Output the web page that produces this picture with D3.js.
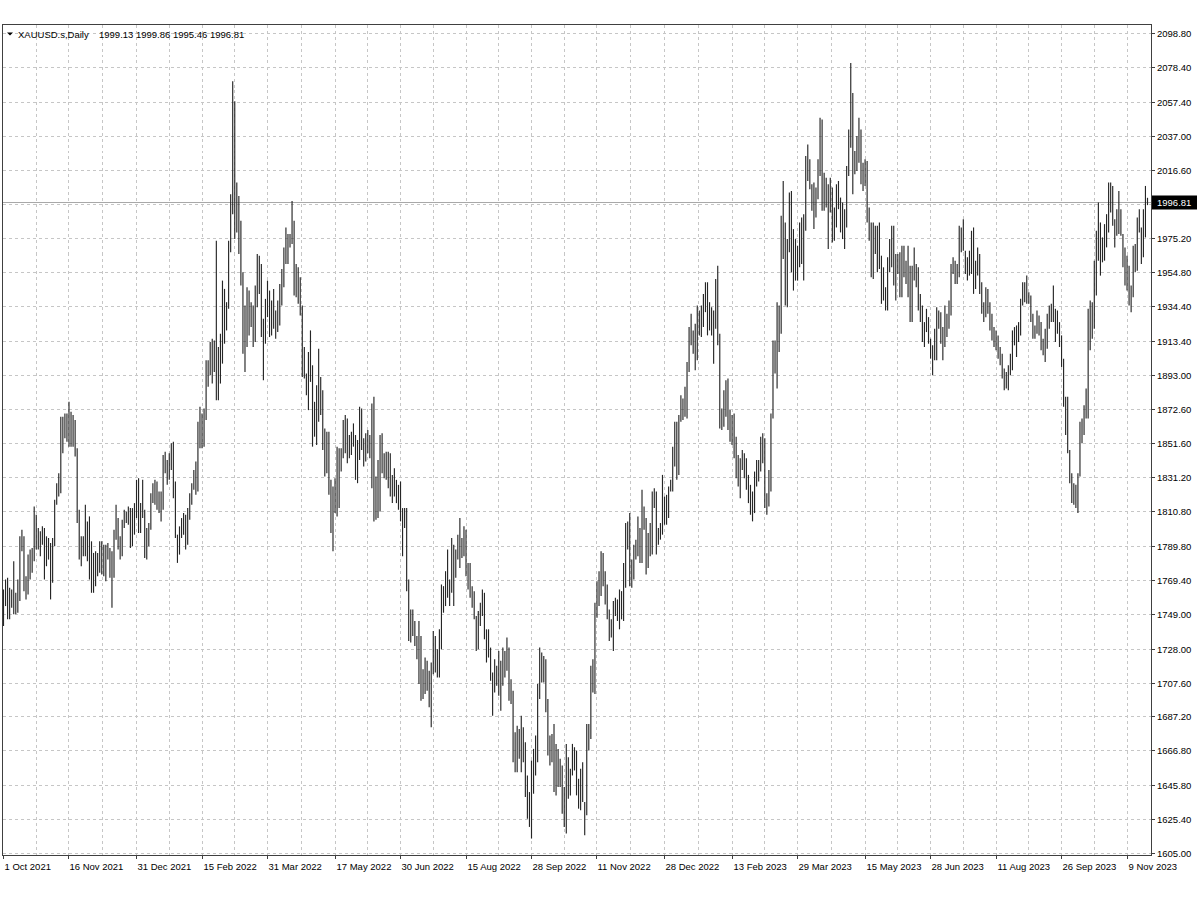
<!DOCTYPE html>
<html>
<head>
<meta charset="utf-8">
<script src="https://cdn.jsdelivr.net/npm/d3@7"></script>
<style>
  html, body { margin: 0; padding: 0; background: #ffffff; }
  svg { display: block; }
  text { font-family: "Liberation Sans", Arial, sans-serif; font-size: 9.5px; fill: #000; }
</style>
</head>
<body>
<svg id="chart" width="1200" height="900"></svg>
<script>
// ---------------- DATA ----------------
const symbolTitle = "XAUUSD.s,Daily";
const lastOHLC = [1999.13, 1999.86, 1995.46, 1996.81];

// Daily highs, 1 Oct 2021 .. 23 Nov 2023 (one row per week)
const highs = [
  1764,
  1770,1771,1765,1764,1781,
  1762,1770,1796,1800,1796,
  1772,1785,1788,1789,1814,
  1809,1801,1799,1802,1801,
  1796,1795,1792,1795,1818,
  1828,1834,1868,1868,1870,
  1870,1877,1871,1869,1866,
  1849,1812,1796,1796,1815,
  1805,1808,1793,1786,1787,
  1786,1793,1793,1791,1791,
  1792,1789,1787,1800,1815,
  1807,1796,1806,1812,1811,
  1814,1813,1813,1816,1830,
  1831,1816,1830,1812,1801,
  1804,1822,1828,1830,1829,
  1823,1823,1845,1847,1842,
  1846,1852,1853,1829,1797,
  1802,1807,1810,1809,1813,
  1822,1828,1836,1841,1865,
  1874,1870,1873,1902,1902,
  1913,1915,1914,1974,1910,
  1918,1950,1945,1937,1974,
  2002,2070,2058,2009,2001,
  1986,1955,1935,1946,1944,
  1937,1935,1947,1966,1965,
  1960,1927,1939,1950,1944,
  1938,1945,1932,1938,1948,
  1957,1970,1982,1978,1978,
  1998,1986,1960,1958,1952,
  1935,1910,1894,1907,1920,
  1899,1877,1887,1909,1892,
  1884,1861,1859,1859,1830,
  1826,1831,1850,1849,1849,
  1866,1869,1867,1857,1859,
  1864,1857,1854,1874,1873,
  1855,1858,1860,1857,1876,
  1880,1832,1842,1857,1858,
  1846,1847,1847,1846,1833,
  1837,1830,1827,1829,1813,
  1813,1813,1770,1752,1752,
  1745,1736,1745,1736,1716,
  1723,1721,1715,1720,1739,
  1736,1728,1740,1767,1766,
  1775,1788,1770,1795,1791,
  1788,1797,1807,1795,1802,
  1800,1780,1780,1766,1763,
  1748,1751,1756,1764,1762,
  1740,1740,1729,1714,1722,
  1718,1727,1721,1729,1727,
  1735,1729,1710,1703,1678,
  1682,1680,1688,1681,1672,
  1652,1642,1661,1668,1676,
  1707,1729,1726,1724,1722,
  1698,1676,1677,1683,1671,
  1668,1662,1658,1645,1671,
  1663,1656,1671,1669,1667,
  1650,1656,1660,1636,1683,
  1683,1718,1722,1756,1769,
  1775,1787,1786,1775,1767,
  1752,1746,1757,1759,1758,
  1764,1763,1780,1804,1805,
  1810,1782,1791,1794,1808,
  1801,1824,1814,1807,1798,
  1804,1823,1825,1823,1801,
  1804,1833,1820,1821,1826,
  1830,1850,1865,1865,1869,
  1881,1879,1886,1901,1922,
  1930,1920,1924,1935,1932,
  1935,1942,1949,1949,1937,
  1934,1932,1951,1959,1918,
  1873,1884,1890,1891,1872,
  1869,1870,1856,1845,1843,
  1848,1846,1843,1833,1827,
  1823,1835,1842,1842,1856,
  1858,1855,1822,1836,1870,
  1914,1914,1937,1935,1989,
  2010,1985,1975,2003,2004,
  1981,1975,1971,1985,1988,
  1990,2025,2032,2023,2008,
  2009,2006,2023,2048,2047,
  2015,2012,2008,2012,2006,
  1994,2008,2010,2000,1997,
  1993,2019,2041,2081,2063,
  2028,2037,2048,2041,2021,
  2023,2022,1994,1985,1985,
  1983,1983,1985,1965,1958,
  1946,1964,1975,1983,1983,
  1966,1966,1967,1971,1971,
  1962,1971,1959,1959,1970,
  1960,1958,1942,1935,1925,
  1933,1928,1915,1911,1921,
  1934,1932,1931,1922,1935,
  1930,1938,1960,1964,1962,
  1960,1983,1982,1987,1968,
  1964,1968,1980,1982,1962,
  1970,1966,1949,1937,1946,
  1945,1937,1930,1922,1920,
  1917,1910,1906,1897,1895,
  1899,1906,1920,1922,1923,
  1925,1939,1949,1949,1953,
  1943,1941,1930,1923,1932,
  1929,1925,1915,1921,1930,
  1935,1936,1947,1933,1932,
  1925,1917,1903,1880,1880,
  1848,1834,1828,1827,1834,
  1865,1867,1875,1885,1933,
  1938,1937,1962,1980,1997,
  1985,1976,1984,1990,2009,
  2009,2007,1987,1993,2004,
  1993,1978,1970,1965,1959,
  1947,1971,1972,1988,1993,
  1982,1993,2007,1999.86
];

// Daily lows, same days
const lows = [
  1742,
  1754,1746,1746,1753,1749,
  1749,1750,1757,1787,1763,
  1758,1761,1770,1774,1781,
  1788,1788,1784,1791,1770,
  1778,1782,1758,1768,1790,
  1815,1820,1822,1846,1855,
  1853,1850,1850,1850,1844,
  1804,1782,1778,1784,1784,
  1781,1770,1762,1762,1766,
  1772,1774,1773,1772,1769,
  1782,1771,1753,1771,1794,
  1788,1782,1784,1801,1804,
  1803,1789,1790,1797,1807,
  1798,1798,1807,1783,1782,
  1790,1800,1816,1815,1812,
  1810,1805,1812,1834,1827,
  1830,1836,1819,1795,1780,
  1785,1795,1797,1788,1791,
  1806,1815,1824,1821,1823,
  1849,1849,1850,1866,1886,
  1893,1888,1895,1878,1878,
  1888,1900,1912,1920,1933,
  1967,1990,1975,1979,1966,
  1947,1906,1895,1910,1917,
  1922,1910,1913,1934,1942,
  1916,1890,1912,1928,1916,
  1917,1921,1915,1919,1923,
  1935,1946,1960,1960,1970,
  1972,1941,1940,1936,1929,
  1892,1891,1881,1872,1889,
  1850,1856,1851,1865,1869,
  1848,1832,1834,1821,1798,
  1787,1810,1808,1813,1835,
  1843,1846,1840,1843,1845,
  1850,1830,1828,1842,1848,
  1838,1841,1846,1843,1825,
  1805,1806,1807,1811,1834,
  1831,1830,1825,1820,1816,
  1820,1816,1812,1805,1784,
  1801,1763,1733,1732,1736,
  1730,1722,1707,1697,1698,
  1701,1703,1693,1681,1713,
  1714,1711,1711,1728,1750,
  1754,1759,1754,1762,1754,
  1771,1782,1777,1783,1784,
  1772,1764,1759,1753,1746,
  1727,1728,1742,1748,1734,
  1720,1723,1709,1688,1702,
  1706,1700,1691,1706,1711,
  1715,1697,1695,1660,1654,
  1654,1662,1654,1660,1639,
  1626,1621,1614,1641,1652,
  1660,1698,1708,1708,1690,
  1664,1658,1660,1642,1640,
  1645,1645,1629,1621,1617,
  1638,1640,1652,1655,1640,
  1632,1631,1636,1616,1628,
  1667,1674,1702,1701,1747,
  1754,1760,1766,1755,1746,
  1733,1735,1727,1748,1745,
  1740,1746,1745,1765,1788,
  1766,1765,1770,1782,1784,
  1780,1780,1800,1773,1777,
  1784,1785,1813,1785,1791,
  1794,1797,1803,1803,1807,
  1823,1823,1838,1830,1833,
  1865,1866,1868,1867,1895,
  1911,1906,1896,1902,1917,
  1916,1922,1931,1917,1920,
  1917,1900,1921,1911,1861,
  1860,1862,1868,1860,1853,
  1851,1843,1831,1826,1819,
  1836,1831,1824,1816,1809,
  1805,1810,1826,1829,1835,
  1840,1813,1809,1814,1823,
  1867,1894,1885,1907,1918,
  1963,1935,1934,1967,1955,
  1944,1950,1950,1958,1960,
  1950,1980,2010,2005,1992,
  1981,1988,1999,2013,1992,
  1992,1994,1969,1991,1973,
  1974,1982,1993,1979,1975,
  1969,1982,2013,2030,2002,
  2014,2016,2021,2008,2004,
  2007,1985,1974,1952,1951,
  1966,1955,1957,1936,1938,
  1932,1932,1955,1958,1947,
  1938,1954,1940,1940,1952,
  1948,1940,1925,1925,1950,
  1946,1932,1925,1913,1910,
  1919,1912,1903,1893,1902,
  1902,1921,1912,1902,1910,
  1916,1921,1929,1954,1948,
  1948,1952,1967,1968,1954,
  1950,1953,1954,1942,1945,
  1953,1942,1930,1925,1928,
  1930,1920,1914,1910,1908,
  1903,1899,1891,1884,1885,
  1884,1893,1896,1911,1904,
  1913,1917,1935,1937,1936,
  1936,1925,1915,1915,1918,
  1917,1908,1905,1901,1909,
  1921,1925,1925,1913,1918,
  1910,1898,1874,1857,1846,
  1828,1816,1815,1813,1810,
  1832,1852,1857,1867,1867,
  1908,1915,1921,1941,1962,
  1953,1961,1962,1970,1979,
  1991,1983,1970,1977,1978,
  1977,1958,1947,1944,1935,
  1931,1940,1955,1956,1979,
  1960,1964,1976,1995.46
];

const xLabels = ["1 Oct 2021","16 Nov 2021","31 Dec 2021","15 Feb 2022","31 Mar 2022",
  "17 May 2022","30 Jun 2022","15 Aug 2022","28 Sep 2022","11 Nov 2022","28 Dec 2022",
  "13 Feb 2023","29 Mar 2023","15 May 2023","28 Jun 2023","11 Aug 2023","26 Sep 2023","9 Nov 2023"];
const xLabelBars = [0,32,65,97,129,162,194,226,258,290,323,356,388,421,453,485,517,549];

const yTicks = [1605.00,1625.40,1645.80,1666.80,1687.20,1707.60,1728.00,1749.00,1769.40,
  1789.80,1810.80,1831.20,1851.60,1872.60,1893.00,1913.40,1934.40,1954.80,1975.20,1995.60,
  2016.60,2037.00,2057.40,2078.40,2098.80];

// ---------------- LAYOUT ----------------
const W = 1200, H = 900;
const frame = { left: 2.5, right: 1151.5, top: 24.5, bottom: 855.5 };
const N = highs.length;

const svg = d3.select("#chart");
svg.append("rect").attr("width", W).attr("height", H).attr("fill", "#fff");

const x = d3.scaleLinear().domain([0, 559]).range([3.5, 1147.5]);
const y = d3.scaleLinear().domain([1605, 2098.8]).range([853.5, 33.5]);

const snap = v => Math.round(v - 0.5) + 0.5;

// grid
const gridG = svg.append("g");
gridG.selectAll("line.hg").data(yTicks).join("line")
  .attr("x1", frame.left).attr("x2", frame.right)
  .attr("y1", d => snap(y(d))).attr("y2", d => snap(y(d)))
  .attr("stroke", "#c6c6c6").attr("stroke-width", 1).attr("stroke-dasharray", "3,3")
  .attr("shape-rendering", "crispEdges");

const vGridBars = [];
xLabelBars.forEach((b, i) => {
  vGridBars.push(b);
  if (i < xLabelBars.length - 1) vGridBars.push((b + xLabelBars[i + 1]) / 2);
});
gridG.selectAll("line.vg").data(vGridBars.filter(b => b > 0)).join("line")
  .attr("x1", d => snap(x(d))).attr("x2", d => snap(x(d)))
  .attr("y1", frame.top).attr("y2", frame.bottom)
  .attr("stroke", "#c6c6c6").attr("stroke-width", 1).attr("stroke-dasharray", "3,3")
  .attr("shape-rendering", "crispEdges");

// current price line
svg.append("line")
  .attr("x1", frame.left).attr("x2", frame.right)
  .attr("y1", snap(y(lastOHLC[3]))).attr("y2", snap(y(lastOHLC[3])))
  .attr("stroke", "#a8a8a8").attr("stroke-width", 1).attr("shape-rendering", "crispEdges");

// bars (high-low)
svg.append("g").selectAll("line").data(d3.range(N)).join("line")
  .attr("x1", i => x(i)).attr("x2", i => x(i))
  .attr("y1", i => y(highs[i])).attr("y2", i => y(lows[i]))
  .attr("stroke", "#262626").attr("stroke-width", 1.15);

// frame
svg.append("path")
  .attr("d", `M${frame.left},${frame.top}H${frame.right}V${frame.bottom}H${frame.left}Z`)
  .attr("fill", "none").attr("stroke", "#404040").attr("stroke-width", 1)
  .attr("shape-rendering", "crispEdges");

// right axis
const py = snap(y(lastOHLC[3]));
const yAxisG = svg.append("g");
yAxisG.selectAll("line").data(yTicks).join("line")
  .attr("x1", frame.right).attr("x2", frame.right + 3)
  .attr("y1", d => snap(y(d))).attr("y2", d => snap(y(d)))
  .attr("stroke", "#404040").attr("shape-rendering", "crispEdges");
// the tick label hidden under the current-price box is not shown (as in the reference)
yAxisG.selectAll("text").data(yTicks.filter(d => Math.abs(y(d) - py) > 8)).join("text")
  .attr("x", 1157).attr("y", d => y(d) + 3.5)
  .text(d => d.toFixed(2));

// price label box
svg.append("rect").attr("x", 1152).attr("y", py - 7).attr("width", 45).attr("height", 14).attr("fill", "#000");
svg.append("text").attr("x", 1157).attr("y", py + 3.5).style("fill", "#fff").text(lastOHLC[3].toFixed(2));

// bottom axis
const xAxisG = svg.append("g");
xAxisG.selectAll("line").data(xLabelBars).join("line")
  .attr("x1", d => snap(x(d))).attr("x2", d => snap(x(d)))
  .attr("y1", frame.bottom).attr("y2", frame.bottom + 3)
  .attr("stroke", "#404040").attr("shape-rendering", "crispEdges");
xAxisG.selectAll("text").data(xLabels).join("text")
  .attr("x", (d, i) => snap(x(xLabelBars[i])) + 1).attr("y", 870)
  .text(d => d);

// title
svg.append("path").attr("d", "M7,32.5 L13,32.5 L10,35.5 Z").attr("fill", "#000");
svg.append("text").attr("x", 18).attr("y", 38).text(symbolTitle);
svg.append("text").attr("x", 99).attr("y", 38).text(lastOHLC.map(v => v.toFixed(2)).join(" "));
</script>
</body>
</html>
